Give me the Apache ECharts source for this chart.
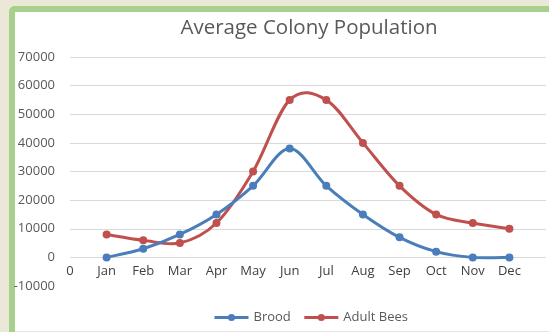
<!DOCTYPE html>
<html>
<head>
<meta charset="utf-8">
<script src="https://cdn.jsdelivr.net/npm/echarts@6/dist/echarts.min.js"></script>
<style>
  html, body { margin: 0; padding: 0; width: 549px; height: 332px; overflow: hidden; background: #ebe8d8; }
  #frame {
    position: absolute; left: 9px; top: 6px; width: 560px; height: 340px;
    border-left: 6px solid #a8d08d; border-top: 6px solid #a8d08d;
    border-top-left-radius: 6px; background: #ffffff;
  }
  #bottomRule { position: absolute; left: 15px; top: 331px; width: 534px; height: 1px; background: #e6e6e6; }
  #chart { position: absolute; left: 0; top: 0; width: 549px; height: 332px; }
</style>
</head>
<body>
<div id="frame"></div>
<div id="bottomRule"></div>
<div id="chart"></div>
<script>
// Monthly averages for a honey bee colony
const months = ['Jan', 'Feb', 'Mar', 'Apr', 'May', 'Jun', 'Jul', 'Aug', 'Sep', 'Oct', 'Nov', 'Dec'];
const brood = [0, 3000, 8000, 15000, 25000, 38000, 25000, 15000, 7000, 2000, 0, 0];
const adultBees = [8000, 6000, 5000, 12000, 30000, 55000, 55000, 40000, 25000, 15000, 12000, 10000];

// Category axis carries a leading "0" slot and a trailing empty slot
const categories = ['0'].concat(months, ['']);
const pad = arr => [null].concat(arr, [null]);

const BLUE = '#4a7ebb';
const RED = '#c0504d';
const gridColor = '#d9d9d9';
const labelFont = 'Open Sans';

// Spreadsheet-style smoothed line: each segment is a cubic Bezier whose
// control points follow the neighbouring points (Catmull-Rom, 1/6 tension).
function smoothSeries(name, values, color) {
  return {
    name: name + ' curve',
    type: 'custom',
    coordinateSystem: 'cartesian2d',
    data: values.map((v, i) => [i + 1, v]),
    encode: { x: 0, y: 1 },
    silent: true,
    z: 1,
    renderItem: function (params, api) {
      const i = params.dataIndex;
      if (i >= values.length - 1) return null;
      const pt = k => {
        const j = Math.max(0, Math.min(values.length - 1, k));
        return api.coord([j + 1, values[j]]);
      };
      const p0 = pt(i - 1), p1 = pt(i), p2 = pt(i + 1), p3 = pt(i + 2);
      return {
        type: 'bezierCurve',
        shape: {
          x1: p1[0], y1: p1[1],
          cpx1: p1[0] + (p2[0] - p0[0]) / 6, cpy1: p1[1] + (p2[1] - p0[1]) / 6,
          cpx2: p2[0] - (p3[0] - p1[0]) / 6, cpy2: p2[1] - (p3[1] - p1[1]) / 6,
          x2: p2[0], y2: p2[1]
        },
        style: { stroke: color, lineWidth: 3, fill: null, lineCap: 'round' }
      };
    }
  };
}

function markerSeries(name, values, color, z) {
  return {
    name: name,
    type: 'line',
    data: pad(values),
    symbol: 'circle',
    symbolSize: 8,
    lineStyle: { width: 0, opacity: 0, color: color },
    itemStyle: { color: color },
    z: z
  };
}

const chart = echarts.init(document.getElementById('chart'), null, { renderer: 'canvas' });
chart.setOption({
  animation: false,
  backgroundColor: 'transparent',
  title: {
    text: 'Average Colony Population',
    left: 304,
    top: 13,
    textAlign: 'center',
    textStyle: { fontFamily: labelFont, fontSize: 20.5, fontWeight: 'normal', color: '#595959' }
  },
  legend: {
    left: 208,
    top: 306,
    itemWidth: 34,
    itemHeight: 9,
    itemGap: 12,
    textStyle: { fontFamily: labelFont, fontSize: 13, color: '#595959' },
    data: [
      { name: 'Brood', lineStyle: { width: 3, opacity: 1, color: BLUE } },
      { name: 'Adult Bees', lineStyle: { width: 3, opacity: 1, color: RED } }
    ]
  },
  grid: { left: 70, right: 0, top: 57, bottom: 46, containLabel: false },
  xAxis: {
    type: 'category',
    data: categories,
    boundaryGap: false,
    axisLine: { show: false, onZero: false },
    axisTick: { show: false },
    axisLabel: { margin: -21, fontFamily: labelFont, fontSize: 13, color: '#404040', interval: 0 },
    splitLine: { show: false }
  },
  yAxis: {
    type: 'value',
    min: -10000,
    max: 70000,
    interval: 10000,
    axisLine: { show: false },
    axisTick: { show: false },
    axisLabel: { margin: 15, fontFamily: labelFont, fontSize: 13, color: '#595959', formatter: v => String(v) },
    splitLine: {
      show: true,
      lineStyle: { color: ['#ffffff', gridColor, gridColor, gridColor, gridColor, gridColor, gridColor, gridColor, gridColor], width: 1 }
    }
  },
  series: [
    smoothSeries('Adult Bees', adultBees, RED),
    smoothSeries('Brood', brood, BLUE),
    markerSeries('Brood', brood, BLUE, 4),
    markerSeries('Adult Bees', adultBees, RED, 3)
  ]
});
</script>
</body>
</html>
